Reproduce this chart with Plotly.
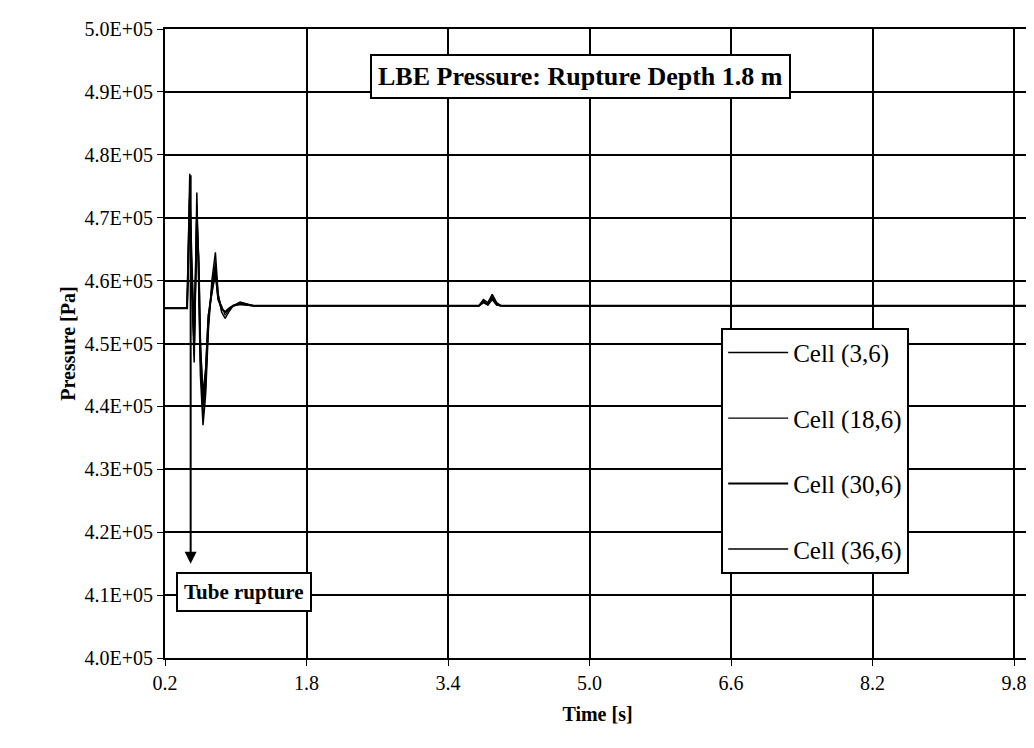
import plotly.graph_objects as go

# time [s] and pressure [Pa]
t = [0.2, 0.45, 0.48, 0.5, 0.53, 0.56, 0.58, 0.6, 0.63, 0.66, 0.69, 0.73, 0.77, 0.8, 0.84, 0.88, 0.92, 0.97, 1.05, 1.2, 2.0, 3.0, 3.75, 3.8, 3.85, 3.9, 3.95, 4.0, 4.1, 5.0, 6.0, 7.0, 8.0, 9.0, 10.0]
p_3 = [4.556e5, 4.556e5, 4.77e5, 4.60e5, 4.47e5, 4.74e5, 4.60e5, 4.45e5, 4.37e5, 4.42e5, 4.52e5, 4.60e5, 4.645e5, 4.58e5, 4.55e5, 4.54e5, 4.55e5, 4.56e5, 4.566e5, 4.56e5, 4.56e5, 4.56e5, 4.56e5, 4.57e5, 4.565e5, 4.578e5, 4.565e5, 4.56e5, 4.56e5, 4.56e5, 4.56e5, 4.56e5, 4.56e5, 4.56e5, 4.56e5]
p_18 = [4.556e5, 4.556e5, 4.75e5, 4.62e5, 4.48e5, 4.72e5, 4.62e5, 4.47e5, 4.38e5, 4.43e5, 4.53e5, 4.59e5, 4.63e5, 4.57e5, 4.56e5, 4.545e5, 4.553e5, 4.56e5, 4.565e5, 4.56e5, 4.56e5, 4.56e5, 4.56e5, 4.568e5, 4.563e5, 4.575e5, 4.563e5, 4.56e5, 4.56e5, 4.56e5, 4.56e5, 4.56e5, 4.56e5, 4.56e5, 4.56e5]
p_30 = [4.556e5, 4.556e5, 4.73e5, 4.63e5, 4.50e5, 4.70e5, 4.63e5, 4.49e5, 4.40e5, 4.45e5, 4.54e5, 4.585e5, 4.62e5, 4.575e5, 4.555e5, 4.55e5, 4.555e5, 4.56e5, 4.563e5, 4.56e5, 4.56e5, 4.56e5, 4.56e5, 4.566e5, 4.562e5, 4.572e5, 4.562e5, 4.56e5, 4.56e5, 4.56e5, 4.56e5, 4.56e5, 4.56e5, 4.56e5, 4.56e5]
p_36 = [4.556e5, 4.556e5, 4.71e5, 4.64e5, 4.51e5, 4.68e5, 4.64e5, 4.50e5, 4.42e5, 4.46e5, 4.545e5, 4.58e5, 4.61e5, 4.57e5, 4.555e5, 4.55e5, 4.556e5, 4.56e5, 4.562e5, 4.56e5, 4.56e5, 4.56e5, 4.56e5, 4.565e5, 4.561e5, 4.57e5, 4.561e5, 4.56e5, 4.56e5, 4.56e5, 4.56e5, 4.56e5, 4.56e5, 4.56e5, 4.56e5]
names = ["Cell (3,6)", "Cell (18,6)", "Cell (30,6)", "Cell (36,6)"]
x_ticks = [0.2, 1.8, 3.4, 5.0, 6.6, 8.2, 9.8]
y_ticks = [4.0e5, 4.1e5, 4.2e5, 4.3e5, 4.4e5, 4.5e5, 4.6e5, 4.7e5, 4.8e5, 4.9e5, 5.0e5]

font = dict(family="Liberation Serif", color="black")
fig = go.Figure()
for i, (name, p, w) in enumerate(zip(names, [p_3, p_18, p_30, p_36], [1.5, 1.2, 2, 1.5])):
    fig.add_trace(go.Scatter(x=t, y=p, name=name, mode="lines", legendgroup=f"g{i}",
                             line=dict(color="black", width=w)))

fig.update_layout(
    width=1034, height=748, margin=dict(l=157, r=10, t=14, b=98),
    paper_bgcolor="white", plot_bgcolor="white", font=dict(size=20, **font),
    legend=dict(x=0.643, y=0.525, xanchor="left", yanchor="top", bgcolor="white",
                bordercolor="black", borderwidth=2, font=dict(size=25, **font),
                tracegroupgap=30, itemwidth=60),
)
fig.update_xaxes(range=[0.2, 9.98], tickvals=x_ticks, ticktext=[f"{v:.1f}" for v in x_ticks],
                 tickfont=dict(size=20, **font),
                 showgrid=True, gridcolor="black", gridwidth=1.5, showline=True, linecolor="black",
                 linewidth=2, mirror=True, ticks="outside", ticklen=6, tickcolor="black",
                 title=dict(text="<b>Time [s]</b>", font=dict(size=20, **font), standoff=14))
fig.update_yaxes(range=[4.0e5, 5.0e5], tickvals=y_ticks, ticktext=[f"{v/1e5:.1f}E+05" for v in y_ticks],
                 tickfont=dict(size=20, **font),
                 showgrid=True, gridcolor="black", gridwidth=1.5, showline=True, linecolor="black",
                 linewidth=2, mirror=True, ticks="outside", ticklen=6, tickcolor="black",
                 title=dict(text="<b>Pressure [Pa]</b>", font=dict(size=20, **font), standoff=4))

fig.add_annotation(x=0.49, y=4.15e5, ax=0.49, ay=4.77e5, xref="x", yref="y", axref="x", ayref="y",
                   showarrow=True, arrowhead=2, arrowsize=1.2, arrowwidth=2, arrowcolor="black", text="")
fig.add_annotation(x=0.32, y=4.105e5, xref="x", yref="y", xanchor="left", text="<b>Tube rupture</b>",
                   showarrow=False, bgcolor="white", bordercolor="black", borderwidth=2, borderpad=6,
                   font=dict(size=21, **font))
fig.add_annotation(x=0.48, y=0.96, xref="paper", yref="paper", text="<b>LBE Pressure: Rupture Depth 1.8 m</b>",
                   showarrow=False, bgcolor="white", bordercolor="black", borderwidth=2, borderpad=6,
                   font=dict(size=26, **font))
fig.write_html("out.html")
